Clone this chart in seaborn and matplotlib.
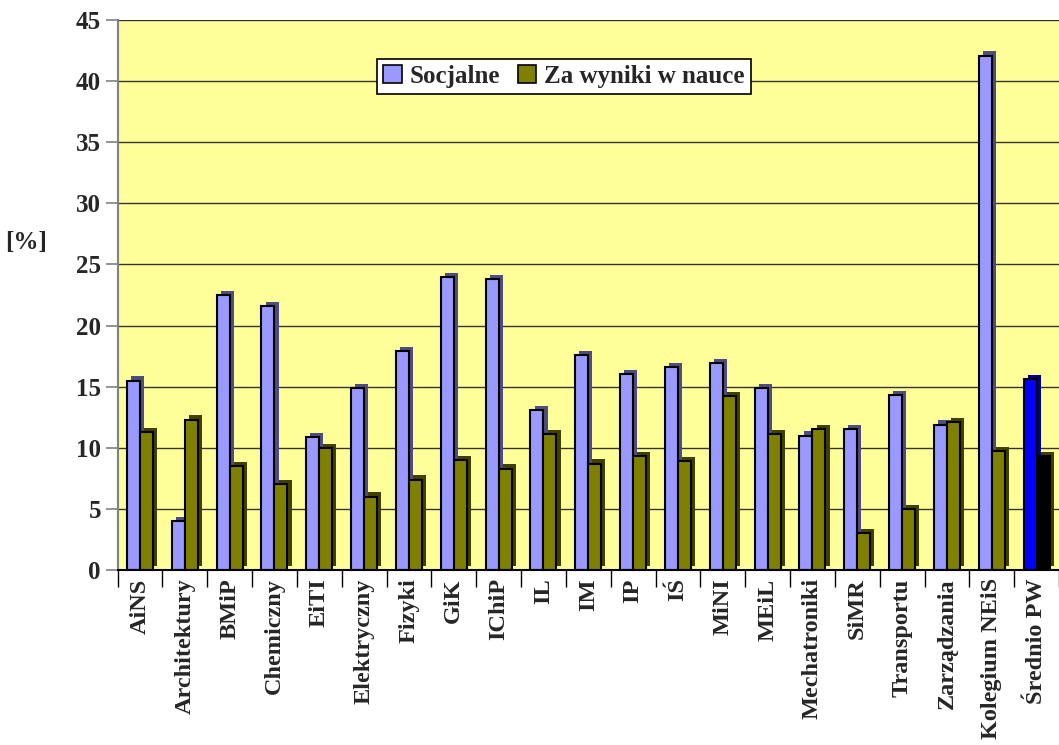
import matplotlib
matplotlib.use("Agg")
import matplotlib.pyplot as plt
import matplotlib.patheffects as pe
import seaborn as sns
import pandas as pd
import numpy as np

# dane
wydzialy = ["AiNS", "Architektury", "BMiP", "Chemiczny", "EiTI", "Elektryczny",
            "Fizyki", "GiK", "IChiP", "IL", "IM", "IP", "IŚ", "MiNI", "MEiL",
            "Mechatroniki", "SiMR", "Transportu", "Zarządzania", "Kolegium NEiS",
            "Średnio PW"]
socjalne = [15.5, 4.0, 22.5, 21.6, 10.9, 14.9, 17.9, 24.0, 23.8, 13.1, 17.6,
            16.0, 16.6, 16.9, 14.9, 11.0, 11.5, 14.3, 11.9, 42.1, 15.6]
za_wyniki = [11.3, 12.3, 8.5, 7.0, 10.0, 6.0, 7.4, 9.0, 8.3, 11.1, 8.7,
             9.3, 8.9, 14.2, 11.1, 11.5, 3.0, 5.0, 12.1, 9.7, 9.3]
serie = ["Socjalne", "Za wyniki w nauce"]

df = pd.DataFrame({
    "wydzial": wydzialy * 2,
    "seria": [serie[0]] * len(wydzialy) + [serie[1]] * len(wydzialy),
    "wartosc": socjalne + za_wyniki,
})

sns.set_style("white")
plt.rcParams["font.family"] = ["Liberation Serif", "DejaVu Serif"]
plt.rcParams["font.weight"] = "bold"

fig = plt.figure(figsize=(10.59, 7.45), dpi=100)
ax = fig.add_axes([0.111, 0.235, 0.889, 0.738])
ax.set_facecolor("#FFFF99")

sns.barplot(data=df, x="wydzial", y="wartosc", hue="seria", order=wydzialy,
            palette=["#9999FF", "#808000"], width=0.58, gap=0,
            edgecolor="black", linewidth=1.5, saturation=1, ax=ax)

# imitacja efektu 3D (boczna ściana słupka)
shades = ["#4D4D80", "#404000"]
for cont, shade in zip(ax.containers, shades):
    for bar in cont:
        bar.set_path_effects([pe.withSimplePatchShadow(offset=(3, 3), shadow_rgbFace=shade, alpha=1)])

# średnia PW innymi kolorami
ax.containers[0][-1].set_facecolor("#0000FF")
ax.containers[0][-1].set_path_effects([pe.withSimplePatchShadow(offset=(3, 3), shadow_rgbFace="#000080", alpha=1)])
ax.containers[1][-1].set_facecolor("black")

ax.set_ylim(0, 45)
ax.set_xlim(-0.5, len(wydzialy) - 0.5)
ax.set_yticks(np.arange(0, 46, 5))
ax.yaxis.grid(True, color="#333333", linewidth=1)
ax.set_axisbelow(True)

ax.tick_params(axis="y", labelsize=18, length=9, color="gray", width=1.2, left=True, pad=3)
ax.set_xticks(range(len(wydzialy)))
ax.set_xticklabels(wydzialy, rotation=90, fontsize=17.5, fontweight="bold")
ax.tick_params(axis="x", length=0, pad=6)
ax.set_xticks(np.arange(-0.5, len(wydzialy), 1), minor=True)
ax.tick_params(axis="x", which="minor", length=12, color="black", width=1, bottom=True)
for lab in ax.get_yticklabels():
    lab.set_fontweight("bold")

ax.set_xlabel("")
ax.set_ylabel("[%]", rotation=0, fontsize=18, fontweight="bold")
ax.yaxis.set_label_coords(-0.097, 0.575)

for side in ["top", "right"]:
    ax.spines[side].set_visible(False)
ax.spines["left"].set_color("gray")
ax.spines["left"].set_linewidth(1.5)
ax.spines["bottom"].set_color("black")
ax.spines["bottom"].set_linewidth(1.5)

leg = ax.legend(loc="upper center", bbox_to_anchor=(0.474, 0.93), ncol=2,
                frameon=True, fancybox=False, edgecolor="black", framealpha=1,
                prop={"size": 18, "weight": "bold"}, handlelength=0.75,
                handleheight=0.75, handletextpad=0.3, columnspacing=0.7,
                borderpad=0.25, borderaxespad=0)
leg.get_frame().set_linewidth(1.2)
for h in leg.legend_handles:
    h.set_path_effects([])
    h.set_linewidth(1.2)

fig.savefig("out.png", dpi=100)
